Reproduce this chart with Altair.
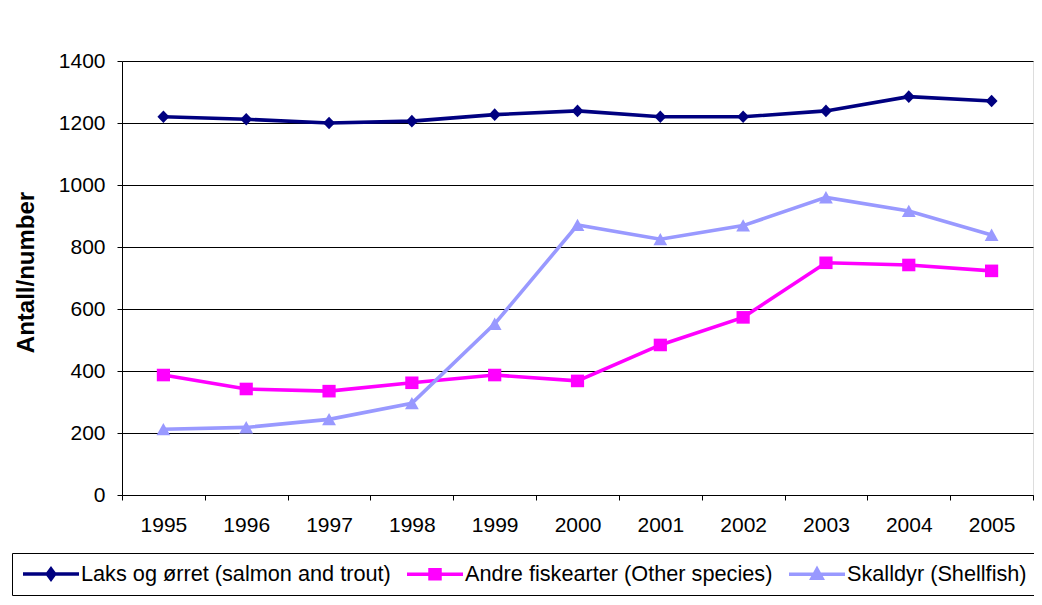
import altair as alt
import pandas as pd

years = ["1995", "1996", "1997", "1998", "1999", "2000", "2001", "2002", "2003", "2004", "2005"]
series_names = [
    "Laks og ørret (salmon and trout)",
    "Andre fiskearter (Other species)",
    "Skalldyr (Shellfish)",
]
laks = [1220, 1212, 1200, 1206, 1227, 1239, 1220, 1220, 1239, 1285, 1271]
andre = [387, 342, 335, 362, 387, 368, 484, 573, 749, 742, 723]
skalldyr = [212, 218, 244, 296, 552, 871, 825, 869, 960, 916, 839]
y_ticks = [0, 200, 400, 600, 800, 1000, 1200, 1400]
colors = ["#000080", "#FF00FF", "#9999FF"]

# marker shapes (unit paths)
marker_paths = [
    "M0,-1.05L1,0L0,1.05L-1,0Z",
    "M-1.1,-1.05H1.1V1.05H-1.1Z",
    "M0,-1.05L1.15,1.0H-1.15Z",
]
# legend symbols: line + marker
legend_paths = [
    "M-1,0H4.6M1.8,-0.5L2.17,0L1.8,0.5L1.43,0Z",
    "M-1,0H4.6M1.3,-0.45H2.3V0.45H1.3Z",
    "M-1,0H4.6M1.8,-0.5L2.3,0.4H1.3Z",
]

rows = []
for name, vals in zip(series_names, [laks, andre, skalldyr]):
    for yr, v in zip(years, vals):
        rows.append({"year": yr, "series": name, "value": v})
df = pd.DataFrame(rows)

FONT = "Liberation Sans"

x_enc = alt.X(
    "year:O",
    sort=years,
    scale=alt.Scale(type="band", paddingInner=0, paddingOuter=0),
    axis=alt.Axis(
        title=None, labelAngle=0, tickBand="extent", labelFontSize=21,
        labelFont=FONT, labelColor="#000", labelPadding=14, tickSize=5,
        tickColor="#000", domainColor="#000", grid=False,
    ),
)
y_enc = alt.Y(
    "value:Q",
    scale=alt.Scale(domain=[0, 1400], nice=False),
    axis=alt.Axis(
        values=y_ticks, format="d", title="Antall/number", titleFontSize=24, titleFont=FONT,
        titleFontWeight="bold", titleColor="#000", titleX=-96, titleY=211,
        titleAngle=-90, titleAlign="center", titleBaseline="middle",
        labelFontSize=21, labelFont=FONT, labelColor="#000", labelPadding=12,
        tickSize=5, tickColor="#000", domainColor="#000",
        grid=True, gridColor="#000", gridOpacity=1, gridWidth=1,
    ),
)

base = alt.Chart(df)

layers = []
for name, path, col in zip(series_names, marker_paths, colors):
    sub = base.transform_filter(alt.datum.series == name)
    layers.append(sub.mark_line(strokeWidth=3.6, color=col).encode(x=x_enc, y=y_enc))
    layers.append(
        sub.mark_point(shape=path, filled=True, size=144, opacity=1, color=col)
        .encode(x=x_enc, y=y_enc)
    )

leg = alt.Legend(
    title=None, orient="none", legendX=-110, legendY=492, direction="horizontal",
    columns=3, symbolSize=400, symbolStrokeWidth=3.5, symbolOpacity=1,
    labelFontSize=21.7, labelFont=FONT, labelColor="#000", labelOffset=36,
    columnPadding=9, padding=9, strokeColor="#000", fillColor="#fff", labelLimit=600,
)

legend_layer = base.mark_point(filled=True, size=0, strokeWidth=0).encode(
    x=x_enc, y=y_enc,
    fill=alt.Fill("series:N", scale=alt.Scale(domain=series_names, range=colors), legend=leg),
    stroke=alt.Stroke("series:N", scale=alt.Scale(domain=series_names, range=colors), legend=leg),
    shape=alt.Shape("series:N", scale=alt.Scale(domain=series_names, range=legend_paths), legend=leg),
)

chart = alt.layer(*layers, legend_layer).properties(
    width=911, height=434,
    autosize=alt.AutoSizeParams(type="none"),
    padding={"left": 114, "top": 53, "right": 1, "bottom": 101},
).configure_view(stroke="#000", strokeWidth=1).configure(font=FONT, background="#ffffff")

chart.save("out.html", embed_options={"renderer": "svg", "actions": False})
